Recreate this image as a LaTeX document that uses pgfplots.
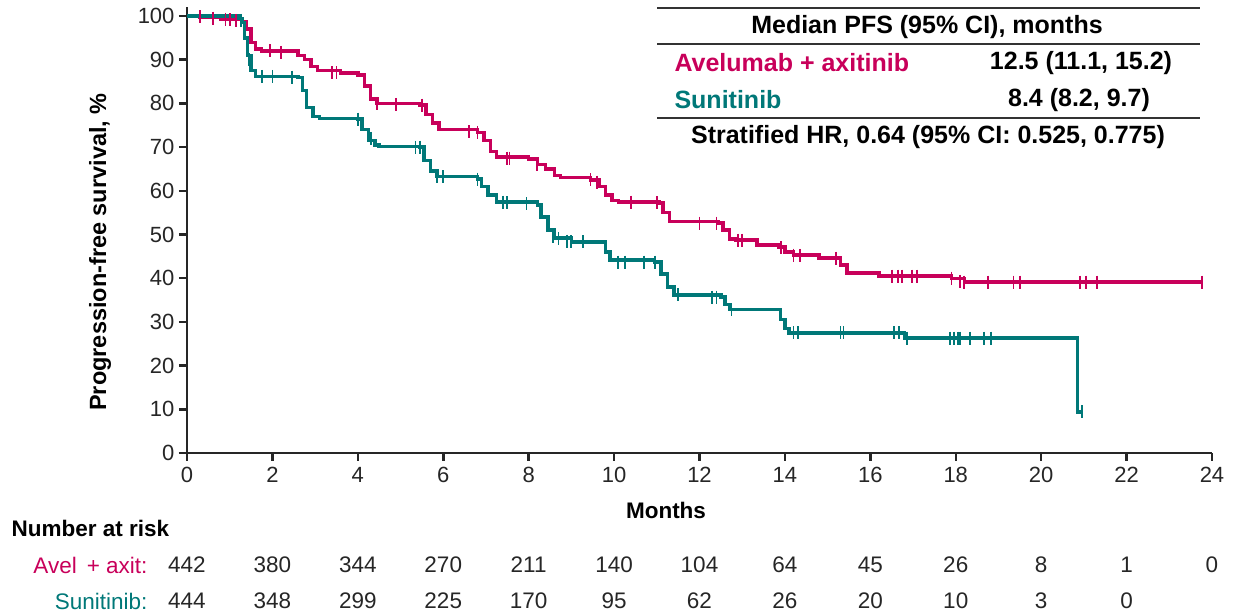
\documentclass[border=0pt]{standalone}
\usepackage{fontspec}
\setmainfont{Liberation Sans}
\usepackage{pgfplots}
\pgfplotsset{compat=1.18}
\definecolor{avel}{RGB}{200,0,90}
\definecolor{suni}{RGB}{0,120,120}
\begin{document}
\begin{tikzpicture}
\useasboundingbox (-187pt,-162pt) rectangle (1052pt,453pt);
\begin{axis}[
  at={(0pt,0pt)}, anchor=south west,
  scale only axis, width=1025pt, height=445.7pt,
  xmin=0, xmax=24, ymin=0, ymax=102,
  axis x line*=bottom, axis y line*=left,
  axis line style={line width=2.5pt, -, black!85},
  xtick={0,2,...,24}, ytick={0,10,...,100},
  tick align=outside, major tick length=8pt,
  tick style={line width=2.5pt, black!85},
  ticklabel style={font=\fontsize{22}{26}\selectfont, text=black!85},
  /pgf/number format/assume math mode=true,
  xticklabel style={yshift=-3pt},
  yticklabel style={xshift=-1pt},
  clip=false,
]
% Avelumab + axitinib
\addplot[avel, line width=3.4pt, const plot, no marks] coordinates {
(0,100) (0.3,99.8) (0.8,99.3) (1.3,98.8) (1.4,97) (1.5,94) (1.6,92.5) (1.75,92)
(2.6,91) (2.75,90) (2.9,88.5) (3.05,87.5) (3.6,87) (4.0,86.5) (4.15,84) (4.3,81)
(4.45,80) (5.45,79.6) (5.6,77.5) (5.75,75.5) (5.9,74) (6.8,73.4) (6.95,71.5)
(7.1,69) (7.25,67.7) (8.0,67.3) (8.2,66) (8.4,65) (8.6,63.5) (8.75,63) (9.45,62.5)
(9.65,61) (9.8,59) (9.95,57.8) (10.1,57.4) (11.05,57.2) (11.15,55) (11.3,53)
(12.45,52.6) (12.55,51) (12.7,49) (12.85,48.7) (13.35,47.6) (13.85,47.1) (14.0,46)
(14.2,45.3) (14.8,44.6) (15.3,43) (15.45,41.2) (16.2,40.5) (17.9,40) (18.2,39.1)
(23.8,39.1)};
\addplot[avel, only marks, mark=|, mark size=6.5pt, mark options={line width=1.8pt}] coordinates {
(0.3,99.8) (0.6,99.5) (0.9,99.3) (1.0,99.2) (1.15,99) (1.95,92) (2.2,91.7) (3.4,87)
(3.5,87) (4.45,80) (4.9,79.8) (5.5,79.6) (6.6,73.5) (6.8,73.4) (7.5,67.5) (7.55,67.5)
(8.2,66) (9.45,62.5) (9.6,62) (10.4,57.4) (11.0,57.3) (12.0,52.6) (12.4,52.6)
(12.9,48.7) (13.0,48.7) (13.9,47) (14.2,45.3) (14.35,45.2) (15.2,44.6) (16.5,40.5)
(16.65,40.5) (16.75,40.5) (16.98,40.5) (17.1,40.5) (17.9,40) (18.1,39.3) (18.2,39.1)
(18.75,39.1) (19.35,39.1) (19.5,39.1) (20.9,39.1) (21.05,39.1) (21.3,39.1) (23.77,39.1)};
% Sunitinib
\addplot[suni, line width=3.4pt, const plot, no marks] coordinates {
(0,100) (1.2,99.5) (1.3,98.5) (1.35,95) (1.42,91) (1.5,87.5) (1.6,86.2) (2.6,86)
(2.7,83) (2.8,79) (2.95,77) (3.1,76.5) (4.0,76.4) (4.1,74) (4.25,71.5) (4.4,70.5)
(4.5,70.2) (5.45,70) (5.55,67) (5.7,64.5) (5.85,63.3) (6.8,62.7) (6.9,61) (7.05,59)
(7.25,57.4) (8.2,56.8) (8.3,54) (8.45,51) (8.6,49.2) (9.0,48.3) (9.7,48.3) (9.8,46)
(9.9,44.2) (10.95,43.7) (11.1,41) (11.25,38) (11.4,36.2) (12.5,35.7) (12.6,34)
(12.7,32.8) (13.8,32.8) (13.9,30.5) (14.0,28.5) (14.1,27.5) (16.8,26.3) (20.85,9.4)
(20.95,9.4)};
\addplot[suni, only marks, mark=|, mark size=6.5pt, mark options={line width=1.8pt}] coordinates {
(1.27,99) (1.45,90) (1.76,86.2) (2.0,86.2) (2.45,86) (4.0,76.4) (4.3,72) (5.35,70)
(5.45,70) (5.85,63.3) (6.0,63.2) (6.8,62.7) (7.4,57.4) (7.5,57.3) (7.95,57) (8.27,55)
(8.57,49.5) (8.7,49) (8.9,48.5) (9.0,48.3) (9.27,48.3) (10.1,43.7) (10.25,43.7)
(10.7,43.7) (10.96,43.7) (11.5,36.2) (12.3,35.7) (12.4,35.7) (12.75,32.8) (14.2,27.5)
(14.3,27.5) (15.3,27.5) (15.37,27.5) (16.55,27.5) (16.67,27.5) (16.85,26.3) (17.87,26.3)
(17.95,26.3) (18.05,26.3) (18.1,26.3) (18.33,26.3) (18.66,26.3) (18.83,26.3) (20.95,9.4)};
\end{axis}
\draw[line width=2.5pt, black!85] (-8pt,0pt) -- (0pt,0pt);
% axis titles
\node[rotate=90, font=\bfseries\fontsize{23.5}{27}\selectfont] at (-87pt,201pt) {Progression-free survival, \%};
\node[font=\bfseries\fontsize{22.5}{26}\selectfont] at (479pt,-57pt) {Months};
% median table
\draw[line width=1.5pt, black!80] (470pt,445pt) -- (1013pt,445pt);
\draw[line width=1.5pt, black!80] (470pt,409pt) -- (1013pt,409pt);
\draw[line width=1.5pt, black!80] (470pt,335pt) -- (1013pt,335pt);
\begin{scope}[every node/.style={font=\bfseries\fontsize{25}{29}\selectfont}]
\node at (740pt,426pt) {Median PFS (95\% CI), months};
\node[anchor=west, text=avel] at (484pt,390pt) {Avelumab + axitinib};
\node at (894pt,390pt) {12.5 (11.1, 15.2)};
\node[anchor=west, text=suni] at (484pt,353pt) {Sunitinib};
\node at (892pt,353pt) {8.4 (8.2, 9.7)};
\node at (741pt,316pt) {Stratified HR, 0.64 (95\% CI: 0.525, 0.775)};
\end{scope}
% number at risk
\node[anchor=west, font=\bfseries\fontsize{22.5}{26}\selectfont] at (-179pt,-75pt) {Number at risk};
\node[anchor=east, text=avel, font=\fontsize{22.5}{26}\selectfont] at (-36pt,-112pt) {Avel\, + axit:};
\node[anchor=east, text=suni, font=\fontsize{22.5}{26}\selectfont] at (-36pt,-148pt) {Sunitinib:};
\foreach \m/\v in {0/442,2/380,4/344,6/270,8/211,10/140,12/104,14/64,16/45,18/26,20/8,22/1,24/0}
  \node[font=\fontsize{22.5}{26}\selectfont, text=black!85] at (\m*42.708pt,-112pt) {\v};
\foreach \m/\v in {0/444,2/348,4/299,6/225,8/170,10/95,12/62,14/26,16/20,18/10,20/3,22/0}
  \node[font=\fontsize{22.5}{26}\selectfont, text=black!85] at (\m*42.708pt,-148pt) {\v};
\end{tikzpicture}
\end{document}
